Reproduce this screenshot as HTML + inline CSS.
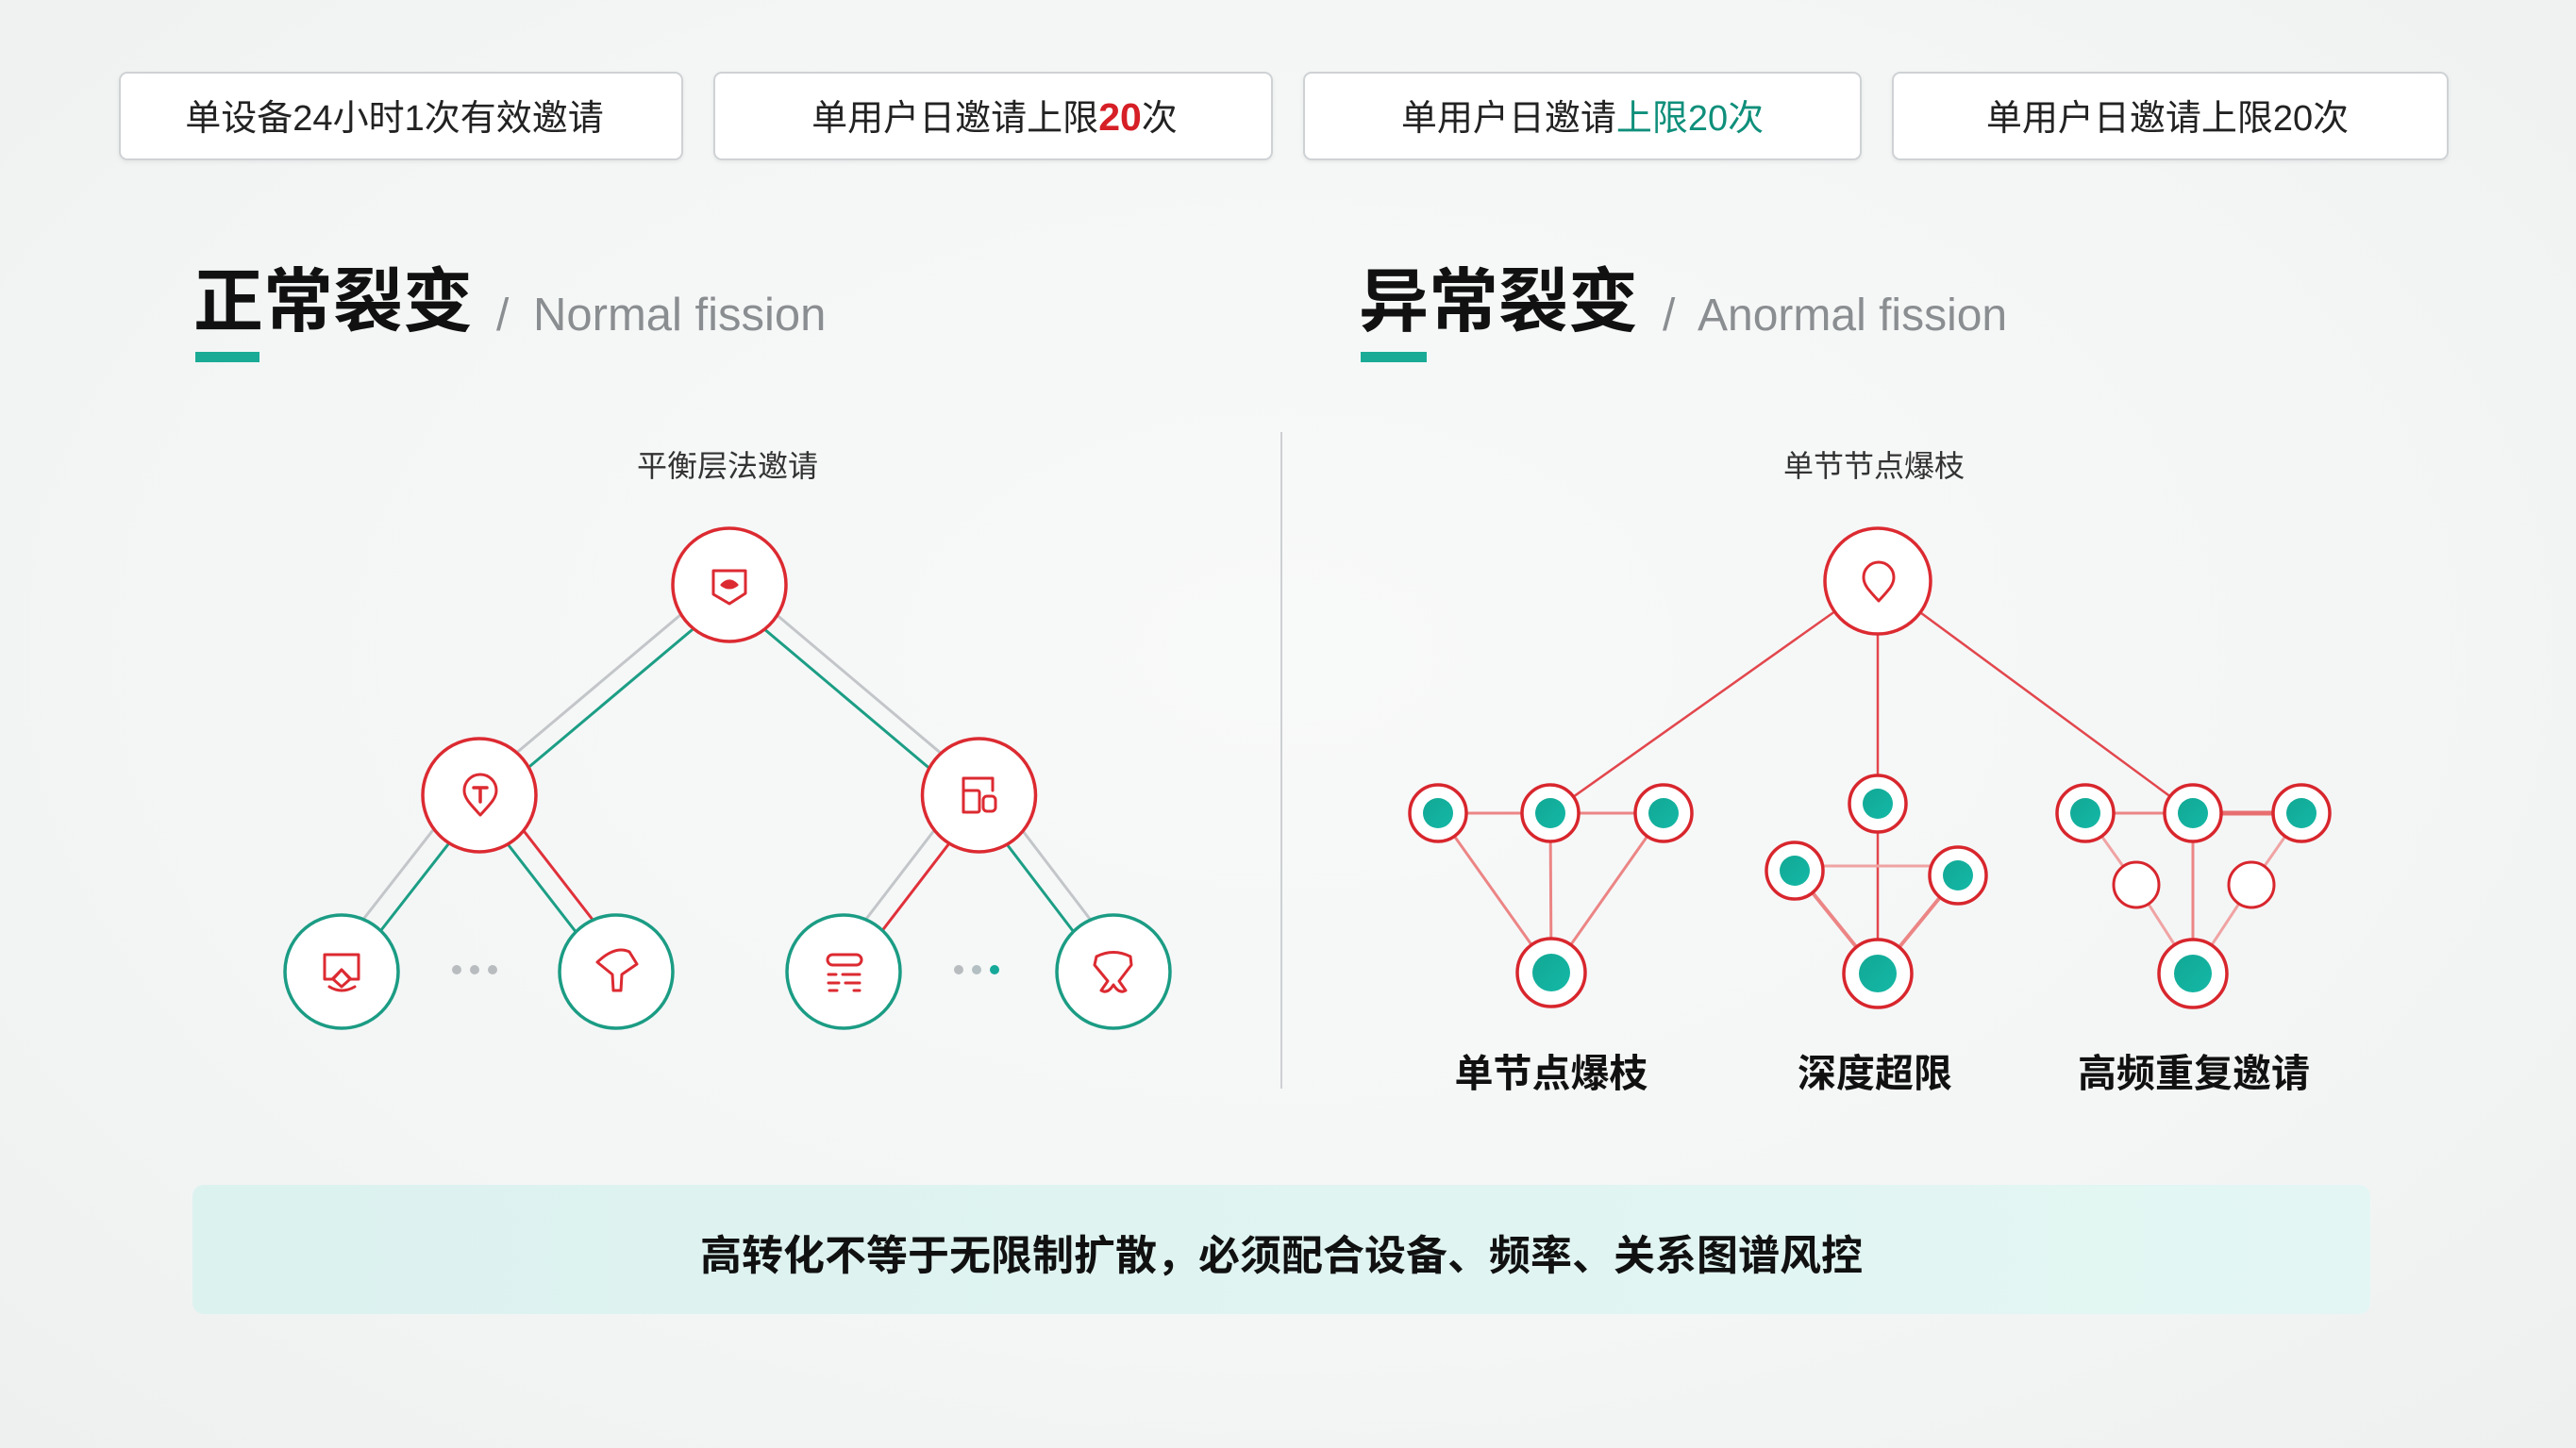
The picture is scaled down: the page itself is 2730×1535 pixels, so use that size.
<!DOCTYPE html>
<html><head><meta charset="utf-8">
<style>
html,body{margin:0;padding:0;}
body{width:2730px;height:1535px;overflow:hidden;background:radial-gradient(ellipse at 50% 45%,#f8f9f9 0%,#f4f6f6 60%,#eef0f0 100%);}
svg{display:block;}
text{font-family:"Liberation Sans","Noto Sans CJK SC",sans-serif;}
</style></head>
<body>
<svg width="2730" height="1535" viewBox="0 0 2730 1535" xmlns="http://www.w3.org/2000/svg">
<defs>
<linearGradient id="ban" x1="0" y1="0" x2="1" y2="0">
<stop offset="0" stop-color="#dcf2ef"/><stop offset="1" stop-color="#e3f6f3"/>
</linearGradient>
<linearGradient id="tl" x1="0" y1="0" x2="1" y2="1">
<stop offset="0" stop-color="#12a895"/><stop offset="1" stop-color="#14b8a6"/>
</linearGradient>
<filter id="sh" x="-5%" y="-20%" width="110%" height="150%"><feDropShadow dx="0" dy="2" stdDeviation="2" flood-color="#000" flood-opacity="0.06"/></filter>
</defs>

<!-- top boxes -->
<g font-size="38" fill="#222" text-anchor="middle">
<rect x="127" y="77" width="596" height="92" rx="8" fill="#fff" stroke="#cfd2d4" stroke-width="2" filter="url(#sh)"/>
<text x="418" y="138">单设备24小时1次有效邀请</text>
<rect x="757" y="77" width="591" height="92" rx="8" fill="#fff" stroke="#cfd2d4" stroke-width="2" filter="url(#sh)"/>
<text x="1054" y="138">单用户日邀请上限<tspan fill="#d61f26" font-weight="700" font-size="41">20</tspan>次</text>
<rect x="1382" y="77" width="590" height="92" rx="8" fill="#fff" stroke="#cfd2d4" stroke-width="2" filter="url(#sh)"/>
<text x="1677" y="138">单用户日邀请<tspan fill="#0f8f7b">上限20次</tspan></text>
<rect x="2006" y="77" width="588" height="92" rx="8" fill="#fff" stroke="#cfd2d4" stroke-width="2" filter="url(#sh)"/>
<text x="2297" y="138">单用户日邀请上限20次</text>
</g>

<!-- titles -->
<text x="205" y="345" font-size="74" font-weight="700" fill="#111">正常裂变</text>
<text x="526" y="350" font-size="48" fill="#8b8e91">/</text>
<text x="565" y="350" font-size="49" fill="#8b8e91">Normal fission</text>
<rect x="207" y="373" width="68" height="11" fill="#1aab96"/>

<text x="1440" y="345" font-size="74" font-weight="700" fill="#111">异常裂变</text>
<text x="1762" y="350" font-size="48" fill="#8b8e91">/</text>
<text x="1799" y="350" font-size="48" fill="#8b8e91">Anormal fission</text>
<rect x="1442" y="373" width="70" height="11" fill="#1aab96"/>

<!-- divider -->
<line x1="1358" y1="458" x2="1358" y2="1154" stroke="#cdd0d2" stroke-width="2"/>

<!-- LEFT DIAGRAM -->
<text x="771" y="505" font-size="32" fill="#333" text-anchor="middle">平衡层法邀请</text>
<g stroke-width="3" fill="none">
<line x1="767.2" y1="613.1" x2="502.2" y2="836.1" stroke="#c3c6c9"/>
<line x1="780.1" y1="628.4" x2="515.1" y2="851.4" stroke="#1c9e85"/>
<line x1="778.2" y1="613.9" x2="1042.7" y2="836.9" stroke="#c3c6c9"/>
<line x1="765.3" y1="629.2" x2="1029.8" y2="852.2" stroke="#1c9e85"/>
<line x1="495.4" y1="833.2" x2="349.4" y2="1020.2" stroke="#c3c6c9"/>
<line x1="512.7" y1="846.7" x2="366.7" y2="1033.7" stroke="#1c9e85"/>
<line x1="519.1" y1="834.4" x2="664.1" y2="1021.4" stroke="#e0313a"/>
<line x1="501.7" y1="847.9" x2="646.7" y2="1034.9" stroke="#1c9e85"/>
<line x1="1025.6" y1="833.9" x2="882.1" y2="1020.9" stroke="#c3c6c9"/>
<line x1="1042.3" y1="846.7" x2="898.8" y2="1033.7" stroke="#e0313a"/>
<line x1="1048.6" y1="834.5" x2="1191.1" y2="1021.5" stroke="#c3c6c9"/>
<line x1="1031.1" y1="847.8" x2="1173.6" y2="1034.8" stroke="#1c9e85"/>
</g>
<g fill="#fff" stroke-width="3.5">
<circle cx="773" cy="620" r="60" stroke="#dc2a31"/>
<circle cx="508" cy="843" r="60" stroke="#dc2a31"/>
<circle cx="1037.5" cy="843" r="60" stroke="#dc2a31"/>
<circle cx="362" cy="1030" r="60" stroke="#1b9c84"/>
<circle cx="653" cy="1030" r="60" stroke="#1b9c84"/>
<circle cx="894" cy="1030" r="60" stroke="#1b9c84"/>
<circle cx="1180" cy="1030" r="60" stroke="#1b9c84"/>
</g>
<!-- dots -->
<circle cx="484" cy="1028" r="5" fill="#b9bcbf"/>
<circle cx="503" cy="1028" r="5" fill="#b9bcbf"/>
<circle cx="522" cy="1028" r="5" fill="#b9bcbf"/>
<circle cx="1016" cy="1028" r="5" fill="#b9bcbf"/>
<circle cx="1035" cy="1028" r="5" fill="#b3bfc2"/>
<circle cx="1054" cy="1028" r="5" fill="#16a99a"/>
<!-- icons -->
<g fill="none" stroke="#dc2a31" stroke-width="3" stroke-linejoin="round" stroke-linecap="round">
<path d="M756 605 H790 V629 L773 640 L756 630 Z"/>
<path d="M765 620 Q773 612 781 620 Q773 626 765 620 Z" fill="#dc2a31"/>
<path d="M509 864 C498 852 492 846 492 838 A17 17 0 0 1 526 838 C526 846 520 852 509 864 Z"/>
<path d="M502 835 H516 M509 835 V850" stroke-width="3.5"/>
<path d="M1021 861 V825 H1052 V838"/>
<rect x="1021" y="838" width="17" height="23" rx="2"/>
<rect x="1042" y="844" width="13" height="16" rx="4"/>
<path d="M344 1012 H380 V1038 H372 L362 1028 L352 1038 H344 Z"/>
<path d="M362 1028 L371 1038 L362 1046 L353 1038 Z"/>
<path d="M349 1046 Q362 1054 376 1046"/>
<path d="M633 1020 Q652 1002 667 1009 L675 1022 L659 1033 L658 1050 L650 1050 L649 1033 Z"/>
<rect x="877" y="1012" width="36" height="11" rx="5.5"/>
<path d="M878 1033 H886 M893 1033 H911 M878 1042 H889 M896 1042 H911 M879 1050 H887 M905 1050 H911"/>
<path d="M1162 1014 Q1180 1005 1198 1014 L1199 1023 L1186 1040 L1193 1050 Q1186 1054 1180 1044 Q1174 1054 1167 1050 L1174 1040 L1160 1023 Z"/>
</g>

<!-- RIGHT DIAGRAM -->
<text x="1986" y="505" font-size="32" fill="#333" text-anchor="middle">单节节点爆枝</text>
<g stroke="#e2474d" stroke-width="2.5">
<line x1="1990" y1="616" x2="1643" y2="862"/>
<line x1="1990" y1="616" x2="2324" y2="862"/>
<line x1="1990" y1="616" x2="1990" y2="1032"/>
</g>
<g stroke="#ec8585" stroke-width="3">
<line x1="1524" y1="862" x2="1763" y2="862"/>
<line x1="1524" y1="862" x2="1644" y2="1031"/>
<line x1="1643" y1="862" x2="1644" y2="1031"/>
<line x1="1763" y1="862" x2="1644" y2="1031"/>
<line x1="1902" y1="918" x2="2075" y2="918" stroke="#f0a3a3"/>
<line x1="1902" y1="923" x2="1990" y2="1032" stroke-width="4"/>
<line x1="2075" y1="928" x2="1990" y2="1032" stroke-width="4"/>
<line x1="2210" y1="862" x2="2324" y2="862"/>
<line x1="2324" y1="862" x2="2439" y2="862" stroke-width="5" stroke="#e86f70"/>
<line x1="2324" y1="862" x2="2324" y2="1032"/>
<line x1="2210" y1="862" x2="2264" y2="938" stroke="#f0a3a3"/>
<line x1="2264" y1="938" x2="2324" y2="1032" stroke="#f0a3a3"/>
<line x1="2439" y1="862" x2="2386" y2="938" stroke="#f0a3a3"/>
<line x1="2386" y1="938" x2="2324" y2="1032" stroke="#f0a3a3"/>
</g>
<circle cx="1990" cy="616" r="56" fill="#fff" stroke="#dc2a31" stroke-width="3.5"/>
<path d="M1991 637 C1980 625 1975 620 1975 612 A16 16 0 0 1 2007 612 C2007 620 2002 625 1991 637 Z" fill="none" stroke="#dc2a31" stroke-width="3" stroke-linejoin="round"/>
<g fill="#fff" stroke="#d8262d" stroke-width="3.5">
<circle cx="1524" cy="862" r="30"/><circle cx="1643" cy="862" r="30"/><circle cx="1763" cy="862" r="30"/>
<circle cx="1644" cy="1031" r="36"/>
<circle cx="1990" cy="852" r="30"/><circle cx="1902" cy="923" r="30"/><circle cx="2075" cy="928" r="30"/>
<circle cx="1990" cy="1032" r="36"/>
<circle cx="2210" cy="862" r="30"/><circle cx="2324" cy="862" r="30"/><circle cx="2439" cy="862" r="30"/>
<circle cx="2324" cy="1032" r="36"/>
<circle cx="2264" cy="938" r="24" stroke-width="3"/><circle cx="2386" cy="938" r="24" stroke-width="3"/>
</g>
<g fill="url(#tl)">
<circle cx="1524" cy="862" r="16"/><circle cx="1643" cy="862" r="16"/><circle cx="1763" cy="862" r="16"/>
<circle cx="1644" cy="1031" r="20"/>
<circle cx="1990" cy="852" r="16"/><circle cx="1902" cy="923" r="16"/><circle cx="2075" cy="928" r="16"/>
<circle cx="1990" cy="1032" r="20"/>
<circle cx="2210" cy="862" r="16"/><circle cx="2324" cy="862" r="16"/><circle cx="2439" cy="862" r="16"/>
<circle cx="2324" cy="1032" r="20"/>
</g>
<g font-size="41" font-weight="700" fill="#111" text-anchor="middle">
<text x="1644" y="1152">单节点爆枝</text>
<text x="1987" y="1152">深度超限</text>
<text x="2325" y="1152">高频重复邀请</text>
</g>

<!-- banner -->
<rect x="204" y="1256" width="2308" height="137" rx="12" fill="url(#ban)"/>
<text x="1358" y="1346" font-size="44" font-weight="700" fill="#111" text-anchor="middle">高转化不等于无限制扩散，必须配合设备、频率、关系图谱风控</text>
</svg>
</body></html>
